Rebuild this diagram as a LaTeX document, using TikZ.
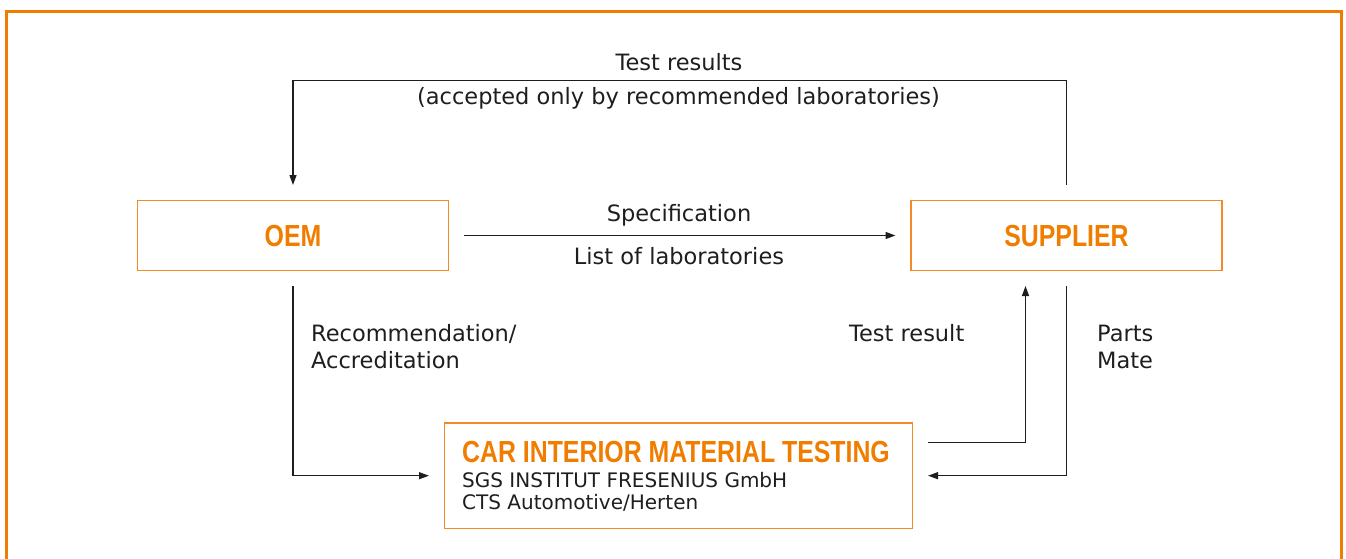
\documentclass[tikz,border=0pt]{standalone}
\usepackage{fontspec}
\setmainfont{DejaVu Sans}
\newfontfamily\headfont{Liberation Sans Bold}[FakeStretch=0.815]
\usetikzlibrary{arrows.meta}
\definecolor{sgsorange}{HTML}{F07D00}
\definecolor{boxorange}{HTML}{F28A26}
\definecolor{lineblack}{HTML}{1E1E1E}
\tikzstyle{partner} = [draw=boxorange, line width=1.5pt, rectangle, minimum width=311pt, minimum height=70pt, inner sep=0pt, outer sep=15.5pt, text=sgsorange, font=\headfont\fontsize{30.5}{34}\selectfont]
\tikzstyle{labbox} = [draw=boxorange, line width=1.5pt, rectangle, minimum width=468pt, minimum height=105.5pt, inner sep=0pt, outer sep=15.5pt]
\tikzstyle{labhead} = [inner sep=0pt, anchor=base west, text=sgsorange, font=\headfont\fontsize{30.5}{34}\selectfont]
\tikzstyle{labtext} = [inner sep=0pt, anchor=base west, text=lineblack, font=\fontsize{20}{22}\selectfont]
\tikzstyle{flow} = [draw=lineblack, line width=1.3pt, -{Triangle[length=10pt,width=7pt]}]
\tikzstyle{flowtext} = [inner sep=0pt, anchor=base, text=lineblack, font=\fontsize{22.5}{27}\selectfont]

\begin{document}
\begin{tikzpicture}[x=1pt, y=-1pt]
	\useasboundingbox (0,0) rectangle (1346,559);
	% outer frame, open at the bottom
	\draw[sgsorange, line width=3pt] (6.5,570) -- (6.5,12) -- (1341.5,12) -- (1341.5,570);

	\node[partner] (oem) at (293,235.5) {OEM};
	\node[partner] (supplier) at (1066.5,235.5) {SUPPLIER};
	\node[labbox] (lab) at (678.5,475.7) {};
	\node[labhead] (labname) at (462,462.3) {CAR INTERIOR MATERIAL TESTING};
	\node[labtext] (labfirm) at (462,487) {SGS INSTITUT FRESENIUS GmbH};
	\node[labtext] (labsite) at (462,509) {CTS Automotive/Herten};

	% connectors
	\draw[flow] (supplier.north) -- ++(0,-104.5) -| (oem.north);
	\draw[flow] (oem.east) -- (supplier.west);
	\draw[flow] (oem.south) |- (lab.west);
	\draw[flow] ([yshift=33pt]lab.east) -| ([xshift=-41pt]supplier.south);
	\draw[flow] (supplier.south) |- (lab.east);

	% labels
	\node[flowtext] (results) at (679,71) {Test results};
	\node[flowtext] (accepted) at (678.5,104.5) {(accepted only by recommended laboratories)};
	\node[flowtext] (spec) at (679,221.5) {Specification};
	\node[flowtext] (labs) at (679,264) {List of laboratories};
	\node[flowtext, anchor=base west, align=left] (recom) at (311,368.5) {Recommendation/\\Accreditation};
	\node[flowtext, anchor=base west] (result) at (849,341.5) {Test result};
	\node[flowtext, anchor=base west, align=left] (parts) at (1097,368.5) {Parts\\Mate};
\end{tikzpicture}
\end{document}
